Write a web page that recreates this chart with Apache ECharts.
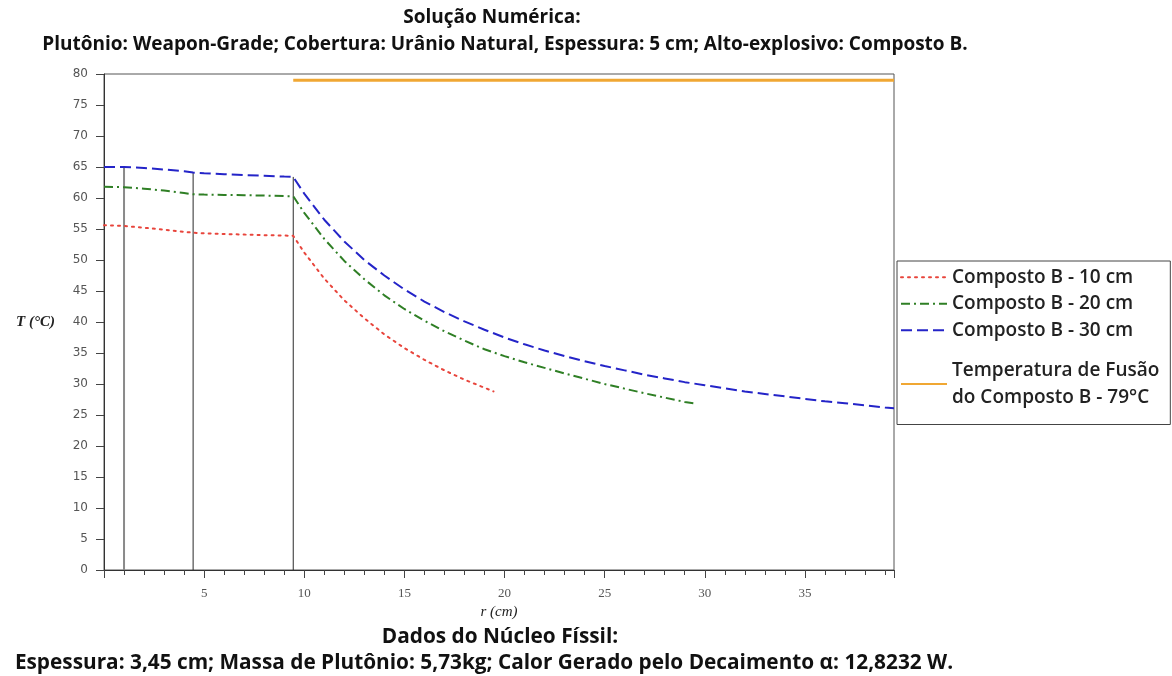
<!DOCTYPE html>
<html>
<head>
<meta charset="utf-8">
<script src="https://cdn.jsdelivr.net/npm/echarts@6/dist/echarts.min.js"></script>
<style>
  html, body { margin: 0; padding: 0; background: #fff; }
  #chart { width: 1172px; height: 676px; }
</style>
</head>
<body>
<div id="chart"></div>
<script>
// Radial temperature profiles (r in cm, T in °C) for three explosive thicknesses
const r10 = [0, 1, 2, 3, 4, 4.45, 5, 6, 7, 8, 9, 9.45, 10, 11, 12, 13, 14, 15, 16, 17, 18, 19, 19.45];
const t10 = [55.6, 55.5, 55.2, 54.9, 54.55, 54.4, 54.3, 54.2, 54.1, 54.0, 53.95, 53.9,
             51.2, 47.0, 43.5, 40.6, 38.0, 35.8, 33.9, 32.2, 30.7, 29.4, 28.8];

const r20 = [0, 1, 2, 3, 4, 4.45, 5, 6, 7, 8, 9, 9.45, 10, 11, 12, 13, 14, 15, 16, 17, 18, 19,
             20, 21, 22, 23, 24, 25, 26, 27, 28, 29, 29.45];
const t20 = [61.8, 61.75, 61.5, 61.2, 60.8, 60.6, 60.55, 60.5, 60.45, 60.4, 60.3, 60.3,
             57.6, 53.4, 49.85, 46.9, 44.3, 42.1, 40.2, 38.5, 37.0, 35.6,
             34.5, 33.5, 32.6, 31.7, 30.85, 30.0, 29.25, 28.5, 27.8, 27.1, 26.9];

const r30 = [0, 1, 2, 3, 4, 4.45, 5, 6, 7, 8, 9, 9.45, 10, 11, 12, 13, 14, 15, 16, 17, 18, 19,
             20, 21, 22, 23, 24, 25, 26, 27, 28, 29, 30, 31, 32, 33, 34, 35, 36, 37, 38, 39, 39.45];
const t30 = [65.0, 65.0, 64.85, 64.6, 64.3, 64.1, 64.0, 63.85, 63.7, 63.6, 63.45, 63.4,
             60.7, 56.5, 53.0, 50.0, 47.5, 45.25, 43.3, 41.6, 40.1, 38.75,
             37.5, 36.4, 35.4, 34.5, 33.66, 32.9, 32.2, 31.5, 30.9, 30.3,
             29.8, 29.3, 28.8, 28.4, 28.0, 27.6, 27.2, 26.9, 26.55, 26.2, 26.1];

// Melting temperature of Composition B
const rMelt = [9.45, 39.45];
const tMelt = [79, 79];

// Layer boundaries (hollow / fissile core / uranium cover) and the top of each marker
const rBounds = [1, 4.45, 9.45];
const tBounds = [65.0, 64.1, 63.4];
const boundColors = ['#8a8a8a', '#2a2a2a', '#2a2a2a'];
const boundWidths = [2, 1, 1];

const seriesNames = [
  'Composto B - 10 cm',
  'Composto B - 20 cm',
  'Composto B - 30 cm',
  'Temperatura de Fusão\ndo Composto B - 79°C'
];
const seriesColors = ['#e8453c', '#2f7f25', '#2424c8', '#f0a733'];

const yTicks = [0, 5, 10, 15, 20, 25, 30, 35, 40, 45, 50, 55, 60, 65, 70, 75, 80];
const xTickLabels = ['5', '10', '15', '20', '25', '30', '35'];

const pairs = (xs, ys) => xs.map((x, i) => [x, ys[i]]);

const chart = echarts.init(document.getElementById('chart'), null, { renderer: 'canvas' });

const boundSeries = rBounds.map((r, i) => ({
  type: 'line',
  name: 'limite' + i,
  data: [[r, 0], [r, tBounds[i]]],
  symbol: 'none',
  silent: true,
  z: 1,
  color: boundColors[i],
  lineStyle: { color: boundColors[i], width: boundWidths[i], type: 'solid' }
}));

const topFont = 'bold 19px "Open Sans"';
const bottomFont = 'bold 20.8px "Open Sans"';

chart.setOption({
  animation: false,
  backgroundColor: '#ffffff',
  grid: {
    left: 104, right: 278, top: 74, bottom: 106,
    show: true, borderColor: '#555', borderWidth: 1
  },
  xAxis: {
    type: 'value',
    min: 0, max: 39.45, interval: 5,
    name: 'r (cm)',
    nameLocation: 'middle',
    nameGap: 27,
    nameTextStyle: { fontFamily: 'Liberation Serif', fontStyle: 'italic', fontSize: 15, color: '#222' },
    axisLine: { show: true, lineStyle: { color: '#333', width: 1 } },
    axisTick: { show: true, length: 8, lineStyle: { color: '#444' } },
    minorTick: { show: true, splitNumber: 5, length: 5, lineStyle: { color: '#444' } },
    splitLine: { show: false },
    axisLabel: {
      margin: 17,
      showMaxLabel: false,
      fontFamily: 'Liberation Serif', fontSize: 13, color: '#555',
      formatter: v => { const s = String(v); return xTickLabels.includes(s) ? s : ''; }
    }
  },
  yAxis: {
    type: 'value',
    min: yTicks[0], max: yTicks[yTicks.length - 1], interval: 5,
    name: 'T (°C)',
    nameLocation: 'middle',
    nameRotate: 0,
    nameGap: 49,
    nameTextStyle: { fontFamily: 'Liberation Serif', fontStyle: 'italic', fontWeight: 'bold', fontSize: 15, color: '#222' },
    axisLine: { show: true, lineStyle: { color: '#333', width: 1 } },
    axisTick: { show: true, length: 8, lineStyle: { color: '#444' } },
    splitLine: { show: false },
    axisLabel: { margin: 16, fontFamily: 'DejaVu Sans', fontSize: 12, color: '#555' }
  },
  legend: {
    orient: 'vertical',
    left: 897, top: 261,
    padding: [3, 11, 0, 3],
    itemGap: 0,
    itemWidth: 46,
    itemHeight: 26,
    borderColor: '#444', borderWidth: 1,
    backgroundColor: '#fff',
    selectedMode: false,
    itemStyle: { opacity: 0 },
    textStyle: { fontFamily: 'Open Sans', fontWeight: 600, fontSize: 19, color: '#222', lineHeight: 26.5 },
    data: [
      { name: seriesNames[0] },
      { name: seriesNames[1] },
      { name: seriesNames[2] },
      { name: seriesNames[3], textStyle: { padding: [27, 0, 0, 0], lineHeight: 27 } }
    ]
  },
  graphic: [
    { type: 'text', x: 492, y: 18, style: { text: 'Solução Numérica:', font: topFont, fill: '#111', align: 'center', verticalAlign: 'middle' } },
    { type: 'text', x: 505, y: 45, style: { text: 'Plutônio: Weapon-Grade; Cobertura: Urânio Natural, Espessura: 5 cm; Alto-explosivo: Composto B.', font: topFont, fill: '#111', align: 'center', verticalAlign: 'middle' } },
    { type: 'text', x: 500, y: 637, style: { text: 'Dados do Núcleo Físsil:', font: bottomFont, fill: '#111', align: 'center', verticalAlign: 'middle' } },
    { type: 'text', x: 484, y: 663, style: { text: 'Espessura: 3,45 cm; Massa de Plutônio: 5,73kg; Calor Gerado pelo Decaimento α: 12,8232 W.', font: bottomFont, fill: '#111', align: 'center', verticalAlign: 'middle' } }
  ],
  series: [
    ...boundSeries,
    {
      type: 'line', name: seriesNames[0], data: pairs(r10, t10), symbol: 'none', z: 3,
      color: seriesColors[0],
      lineStyle: { color: seriesColors[0], width: 2, type: [2, 5], cap: 'round' }
    },
    {
      type: 'line', name: seriesNames[1], data: pairs(r20, t20), symbol: 'none', z: 3,
      color: seriesColors[1],
      lineStyle: { color: seriesColors[1], width: 2, type: [9, 4, 2, 4] }
    },
    {
      type: 'line', name: seriesNames[2], data: pairs(r30, t30), symbol: 'none', z: 3,
      color: seriesColors[2],
      lineStyle: { color: seriesColors[2], width: 2, type: [11, 5] }
    },
    {
      type: 'line', name: seriesNames[3], data: pairs(rMelt, tMelt), symbol: 'none', z: 3,
      color: seriesColors[3],
      lineStyle: { color: seriesColors[3], width: 3, type: 'solid' }
    }
  ]
});
</script>
</body>
</html>
